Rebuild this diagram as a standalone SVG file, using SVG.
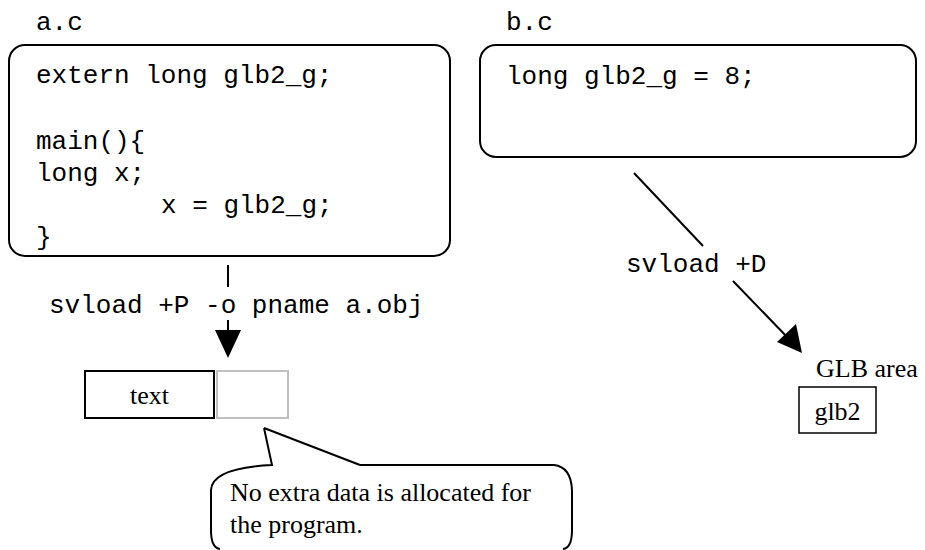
<svg xmlns="http://www.w3.org/2000/svg" width="925" height="550" viewBox="0 0 925 550">
<defs>
<style>
.mono{font-family:"Liberation Mono","Courier New",monospace;font-size:26px;fill:#000;white-space:pre}
.serif{font-family:"Liberation Serif","Times New Roman",serif;font-size:26px;fill:#000}
.box{fill:#fff;stroke:#000;stroke-width:2}
.line{stroke:#000;stroke-width:2;fill:none}
</style>
</defs>
<rect width="925" height="550" fill="#fff"/>
<g id="file-a">
<text class="mono" x="36" y="30">a.c</text>
<rect class="box" x="9" y="45" width="441" height="211" rx="16"/>
<text class="mono" x="36" y="83">extern long glb2_g;</text>
<text class="mono" x="36" y="149">main(){</text>
<text class="mono" x="36" y="181">long x;</text>
<text class="mono" x="161" y="213">x = glb2_g;</text>
<text class="mono" x="36" y="245">}</text>
</g>
<g id="file-b">
<text class="mono" x="506" y="30">b.c</text>
<rect class="box" x="480" y="45" width="436" height="112" rx="16"/>
<text class="mono" x="506" y="84">long glb2_g = 8;</text>
</g>
<g id="connectors">
<line class="line" x1="228" y1="265" x2="228" y2="287"/>
<text class="mono" x="49" y="313">svload +P -o pname a.obj</text>
<line class="line" x1="228" y1="320" x2="228" y2="331"/>
<polygon points="215,330 241,330 228,358" fill="#000"/>
<line class="line" x1="634" y1="173" x2="703" y2="246"/>
<text class="mono" x="626" y="272">svload +D</text>
<line class="line" x1="733" y1="281" x2="790" y2="340"/>
<polygon points="802,353 777,342 796,324" fill="#000"/>
</g>
<g id="program">
<rect x="85" y="371" width="129" height="47" fill="#fff" stroke="#000" stroke-width="2"/>
<text class="serif" x="149.5" y="404" text-anchor="middle">text</text>
<rect x="217" y="371" width="71" height="47" fill="#fff" stroke="#c0c0c0" stroke-width="2"/>
</g>
<g id="glb">
<text class="serif" x="816" y="377" font-size="24">GLB area</text>
<rect x="799" y="387" width="77" height="46" fill="#fff" stroke="#000" stroke-width="1.5"/>
<text class="serif" x="837.5" y="420" text-anchor="middle">glb2</text>
</g>
<g id="callout">
<path class="line" d="M264,428 L272,465 Q212,468 211,490 L211,530 Q211,548 220,549 M360,465 L264,428 M360,465 L554,465 Q571,467 572,490 L572,530 Q572,548 563,549"/>
<text class="serif" x="230" y="501">No extra data is allocated for</text>
<text class="serif" x="230" y="533">the program.</text>
</g>
</svg>
